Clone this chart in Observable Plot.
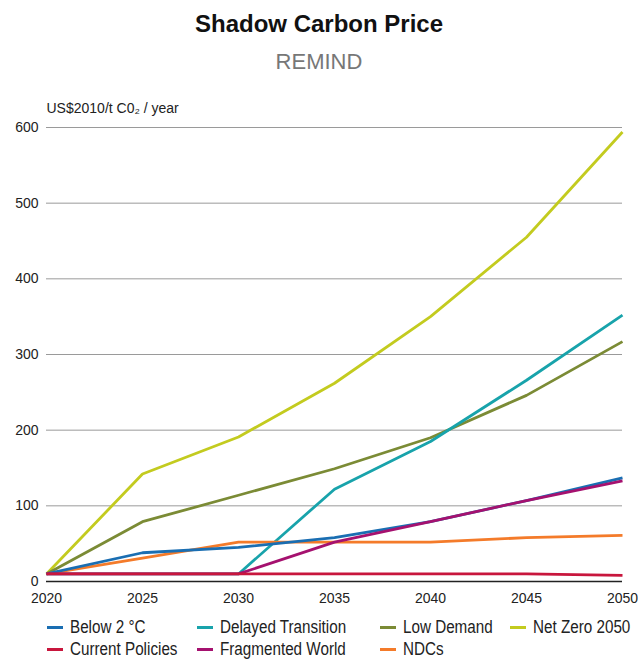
<!DOCTYPE html>
<html>
<head>
<meta charset="utf-8">
<script src="https://cdn.jsdelivr.net/npm/d3@7"></script>
<script src="https://cdn.jsdelivr.net/npm/@observablehq/plot@0.6"></script>
<style>
  html, body { margin: 0; padding: 0; background: #fff; }
  #wrap { position: relative; width: 638px; height: 659px; overflow: hidden; font-family: "Liberation Sans", sans-serif; }
  #title { position: absolute; top: 10px; left: 0; width: 638px; text-align: center; font-family: "Liberation Sans", sans-serif; font-weight: bold; font-size: 24px; color: #111; }
  #subtitle { position: absolute; top: 49px; left: 0; width: 638px; text-align: center; font-family: "Liberation Sans", sans-serif; font-size: 22px; color: #777; }
  #chart { position: absolute; top: 90px; left: 0; }
  #legend { position: absolute; top: 617px; left: 0; width: 638px; height: 42px; }
  .item { position: absolute; font-size: 17.5px; color: #222; white-space: nowrap; line-height: 20px; }
  .sw { display: inline-block; width: 16px; height: 3px; vertical-align: middle; margin-right: 7px; position: relative; top: -1px; }
  .tx { display: inline-block; transform: scaleX(0.87); transform-origin: left center; }
</style>
</head>
<body>
<div id="wrap">
  <div id="title">Shadow Carbon Price</div>
  <div id="subtitle">REMIND</div>
  <div id="chart"></div>
  <div id="legend"></div>
</div>
<script>
const years = [2020, 2025, 2030, 2035, 2040, 2045, 2050];
const seriesNames = ["Below 2 °C", "Delayed Transition", "Low Demand", "Net Zero 2050", "Current Policies", "Fragmented World", "NDCs"];
const seriesColors = ["#1a6eb2", "#18a3ab", "#7b8b35", "#c3cb1f", "#c8163d", "#a5116f", "#f47b2a"];
const below2 = [10, 38, 45, 58, 79, 107, 137];
const delayedTransition = [10, 10, 10, 122, 185, 266, 352];
const lowDemand = [10, 79, 114, 149, 190, 246, 317];
const netZero2050 = [10, 142, 191, 262, 350, 455, 594];
const currentPolicies = [10, 10, 10, 10, 10, 10, 8];
const fragmentedWorld = [10, 10, 10, 52, 79, 107, 133];
const ndcs = [10, 31, 52, 52, 52, 58, 61];
const yTicks = [0, 100, 200, 300, 400, 500, 600];
const xTicks = [2020, 2025, 2030, 2035, 2040, 2045, 2050];

const valuesBySeries = [below2, delayedTransition, lowDemand, netZero2050, currentPolicies, fragmentedWorld, ndcs];
const drawOrder = [3, 2, 1, 6, 0, 5, 4];
const data = [];
for (const i of drawOrder) {
  years.forEach((yr, j) => data.push({series: seriesNames[i], year: yr, value: valuesBySeries[i][j]}));
}

const chart = Plot.plot({
  width: 638,
  height: 521,
  marginLeft: 46,
  marginRight: 16,
  marginTop: 37,
  marginBottom: 30,
  style: {fontFamily: "'Liberation Sans', sans-serif", fontSize: "14px", color: "#222", background: "#fff", overflow: "visible"},
  x: {domain: [2020, 2050], ticks: xTicks, tickFormat: d => String(d)},
  y: {domain: [0, 600], ticks: yTicks},
  color: {domain: seriesNames, range: seriesColors},
  marks: [
    Plot.ruleY(yTicks.filter(d => d > 0), {stroke: "#9a9a9a", strokeWidth: 1}),
    Plot.axisX({ticks: xTicks, tickSize: 0, tickPadding: 12, label: null, tickFormat: d => String(d), fontSize: 14}),
    Plot.axisY({ticks: yTicks, tickSize: 0, tickPadding: 8, label: null, fontSize: 14}),
    Plot.text(["US$2010/t C0₂ / year"], {frameAnchor: "top-left", dx: 0, dy: -24, textAnchor: "start", fontSize: 14}),
    Plot.lineY(data, {x: "year", y: "value", z: "series", stroke: "series", strokeWidth: 2.8, strokeLinejoin: "round", strokeLinecap: "butt"}),
    Plot.ruleY([0], {stroke: "#222", strokeWidth: 1.3})
  ]
});
document.getElementById("chart").appendChild(chart);

const legendPos = [
  [47, 0], [197, 0], [380, 0], [510, 0],
  [47, 22], [197, 22], [380, 22]
];
const legend = document.getElementById("legend");
seriesNames.forEach((name, i) => {
  const el = document.createElement("div");
  el.className = "item";
  el.style.left = legendPos[i][0] + "px";
  el.style.top = legendPos[i][1] + "px";
  const sw = document.createElement("span");
  sw.className = "sw";
  sw.style.background = seriesColors[i];
  el.appendChild(sw);
  const tx = document.createElement("span");
  tx.className = "tx";
  tx.textContent = name;
  el.appendChild(tx);
  legend.appendChild(el);
});
</script>
</body>
</html>
